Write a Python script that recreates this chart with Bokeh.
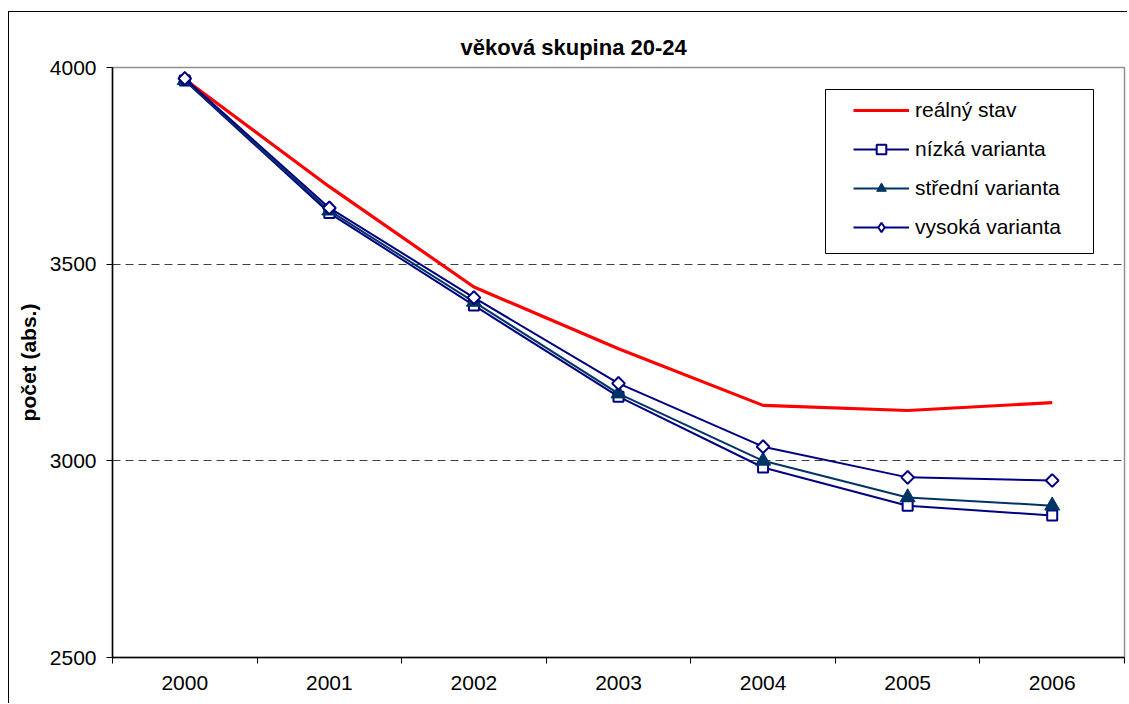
import math
from bokeh.plotting import figure
from bokeh.models import FixedTicker, Legend, LegendItem, Range1d, BoxAnnotation
from bokeh.embed import file_html
from bokeh.resources import INLINE

years = [2000, 2001, 2002, 2003, 2004, 2005, 2006]
realny = [3970, 3697, 3442, 3285, 3141, 3128, 3148]
nizka = [3967, 3630, 3395, 3163, 2983, 2886, 2861]
stredni = [3968, 3636, 3404, 3171, 3000, 2907, 2886]
vysoka = [3972, 3643, 3415, 3197, 3036, 2958, 2950]
y_ticks = [2500, 3000, 3500, 4000]
grid_ticks = [3000, 3500]
title_text = "věková skupina 20-24"
y_label = "počet (abs.)"
series_names = ["reálný stav", "nízká varianta", "střední varianta", "vysoká varianta"]

FONT = "Liberation Sans"
xs = [i + 0.5 for i in range(len(years))]

p = figure(width=1119, height=692, output_backend="svg", toolbar_location=None,
           x_range=Range1d(0, len(years)), y_range=Range1d(2500, 4000),
           min_border_left=103, min_border_top=55, min_border_right=4, min_border_bottom=47)
p.styles = {"border-left": "1px solid black", "border-top": "1px solid black",
            "margin-left": "8px", "margin-top": "11px"}

p.title.text = title_text
p.title.align = "left"
p.title.offset = 348
p.title.text_font = FONT
p.title.text_font_size = "22px"
p.title.text_font_style = "bold"
p.title.text_color = "black"
p.title.standoff = 16

p.outline_line_color = "#909090"
p.outline_line_width = 1.5

# x axis
xa = p.xaxis[0]
xa.ticker = FixedTicker(ticks=xs, minor_ticks=list(range(len(years) + 1)))
xa.major_label_overrides = {x: str(y) for x, y in zip(xs, years)}
xa.major_tick_out = 0
xa.major_tick_in = 0
xa.minor_tick_out = 6
xa.minor_tick_in = 0
xa.minor_tick_line_color = "black"
xa.axis_line_color = "black"
xa.axis_line_width = 1.5
xa.major_label_text_font = FONT
xa.major_label_text_font_size = "21px"
xa.major_label_text_color = "black"
xa.major_label_standoff = 12

# y axis
ya = p.yaxis[0]
ya.ticker = FixedTicker(ticks=y_ticks, minor_ticks=[])
ya.major_tick_out = 6
ya.major_tick_in = 0
ya.major_tick_line_color = "black"
ya.axis_line_color = "black"
ya.axis_line_width = 1.5
ya.major_label_text_font = FONT
ya.major_label_text_font_size = "21px"
ya.major_label_text_color = "black"
ya.major_label_standoff = 10
ya.axis_label = y_label
ya.axis_label_text_font = FONT
ya.axis_label_text_font_size = "21px"
ya.axis_label_text_font_style = "bold"
ya.axis_label_text_color = "black"
ya.axis_label_standoff = 7

p.xgrid.visible = False
p.ygrid.ticker = FixedTicker(ticks=grid_ticks)
p.ygrid.grid_line_color = "#404040"
p.ygrid.grid_line_dash = "8 5"
p.ygrid.grid_line_width = 1

NAVY = "#000080"
TEAL = "#003366"

r_real = p.line(xs, realny, line_color="#FF0000", line_width=3.2)
l_low = p.line(xs, nizka, line_color=NAVY, line_width=2)
m_low = p.scatter(xs, nizka, marker="square", size=10, line_color=NAVY, line_width=2, fill_color="white")
l_mid = p.line(xs, stredni, line_color=TEAL, line_width=2)
m_mid = p.scatter(xs, stredni, marker="triangle", size=15, line_color=TEAL, fill_color=TEAL)
l_high = p.line(xs, vysoka, line_color=NAVY, line_width=2)
# diamond used for the legend key (drawn beneath the rotated squares)
m_high_key = p.scatter(xs, vysoka, marker="diamond", size=12, line_color=NAVY,
                       line_width=2, fill_color="white")
m_high = p.scatter(xs, vysoka, marker="square", angle=math.pi / 4, size=9, line_color=NAVY,
                   line_width=2, fill_color="white")

# legend frame
box = BoxAnnotation(left=713, right=981, top=568, bottom=404,
                    left_units="screen", right_units="screen",
                    top_units="screen", bottom_units="screen",
                    fill_color="white", fill_alpha=1,
                    line_color="black", line_width=1, line_alpha=1)
p.add_layout(box)

legend = Legend(items=[
    LegendItem(label=series_names[0], renderers=[r_real]),
    LegendItem(label=series_names[1], renderers=[l_low, m_low]),
    LegendItem(label=series_names[2], renderers=[l_mid, m_mid]),
    LegendItem(label=series_names[3], renderers=[l_high, m_high_key]),
], location=(733, 410))
legend.border_line_alpha = 0
legend.background_fill_alpha = 0
legend.padding = 8
legend.spacing = 15
legend.glyph_width = 56
legend.glyph_height = 24
legend.label_height = 24
legend.label_standoff = 6
legend.label_text_font = FONT
legend.label_text_font_size = "21px"
legend.label_text_color = "black"
legend.margin = 0
p.add_layout(legend, "center")

open("out.html", "w").write(file_html(p, INLINE))
